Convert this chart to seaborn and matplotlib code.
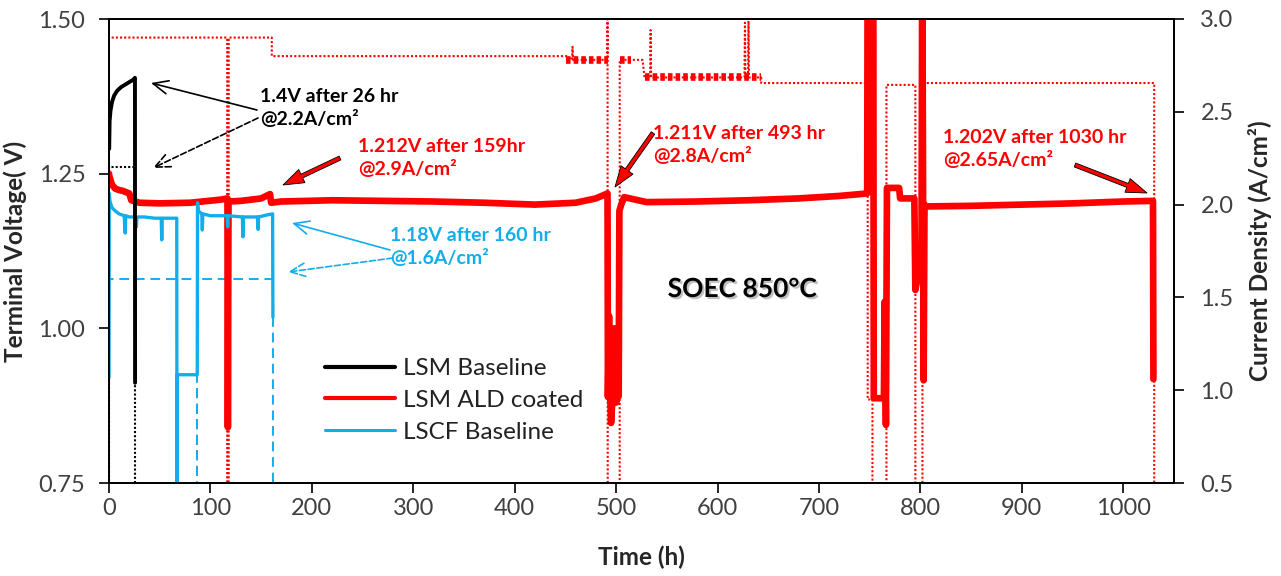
import matplotlib
matplotlib.use("Agg")
import matplotlib.pyplot as plt
import matplotlib.patheffects as pe
import seaborn as sns

# ---------------- data ----------------
# LSM baseline: terminal voltage (V) and current density (A/cm2) vs time (h)
t_lsm = [0.2, 0.6, 1.5, 3, 5, 8, 12, 16, 20, 24, 25.6, 25.7]
v_lsm = [1.29, 1.335, 1.352, 1.366, 1.376, 1.384, 1.390, 1.394, 1.398, 1.402, 1.405, 0.912]
t_lsm_j = [0, 0, 25.7, 25.7]
j_lsm = [0.4, 2.2, 2.2, 0.4]

# LSM ALD coated
t_ald = [0, 0.5, 3, 6, 9, 14, 20, 22, 30, 50, 80, 110, 116.8, 117.2, 117.8, 130, 150,
         158.8, 159.8, 170, 220, 270, 320, 370, 420, 460, 480, 491.5, 491.9, 493, 494,
         495, 496.5, 498, 500, 501.5, 502.5, 503.2, 505, 508, 530, 580, 630, 680, 720,
         747.5, 748, 753.5, 754, 764, 764.7, 766, 767, 779, 780, 794, 795, 797, 801,
         801.8, 803.2, 804, 805, 850, 900, 950, 1000, 1029.3, 1029.7]
v_ald = [1.25, 1.245, 1.232, 1.226, 1.224, 1.222, 1.218, 1.207, 1.203, 1.202, 1.203,
         1.208, 1.21, 0.84, 1.205, 1.206, 1.21, 1.217, 1.203, 1.205, 1.207, 1.206,
         1.205, 1.203, 1.200, 1.203, 1.21, 1.218, 0.889, 1.02, 0.90, 0.847, 0.89, 1.0,
         0.88, 0.95, 0.89, 1.19, 1.2, 1.212, 1.204, 1.205, 1.207, 1.21, 1.214, 1.218,
         1.62, 1.62, 0.887, 0.887, 1.043, 0.844, 1.227, 1.227, 1.21, 1.21, 1.062, 1.08,
         1.08, 1.62, 0.916, 1.2, 1.197, 1.198, 1.2, 1.202, 1.205, 1.206, 0.918]
t_ald_j = [0, 0, 116.5, 116.5, 118, 118, 160.5, 160.5, 451, 456.5, 457, 457.5, 491.5,
           491.5, 491.7, 503.5, 503.5, 526, 528, 533.5, 534, 534.5, 626.5, 627, 627.5,
           630, 630.5, 631, 643, 643, 748, 748, 752.7, 752.7, 766.5, 766.5, 795, 795,
           802, 802, 1030.5, 1030.5]
j_ald = [0.4, 2.9, 2.9, 0.4, 0.4, 2.9, 2.9, 2.8, 2.8, 2.78, 2.85, 2.78, 2.78, 3.1,
         0.4, 0.4, 2.78, 2.78, 2.685, 2.685, 2.94, 2.685, 2.685, 2.98, 2.685, 2.685,
         2.99, 2.685, 2.685, 2.655, 2.655, 0.95, 0.95, 0.4, 0.4, 2.645, 2.645, 0.4,
         0.4, 2.655, 2.655, 0.4]
# spans where the current-density record is noisy
band_start = [451, 503.5, 528]
band_end = [491.5, 515, 643]
band_level = [2.78, 2.78, 2.685]

# LSCF baseline
t_lscf = [0, 0.2, 1, 3, 6, 10, 15, 16, 16.5, 20, 26.5, 27, 27.5, 35, 45, 51.5, 52,
          52.5, 60, 66.8, 67, 67.2, 87, 87.3, 88, 91.5, 92, 92.5, 100, 116.5, 117,
          117.5, 131.5, 132, 132.5, 146.5, 147, 147.5, 155, 161.3, 161.6]
v_lscf = [0.92, 1.218, 1.205, 1.195, 1.19, 1.185, 1.182, 1.154, 1.182, 1.18, 1.18,
          1.164, 1.18, 1.18, 1.178, 1.178, 1.143, 1.178, 1.178, 1.178, 0.74, 0.925,
          0.925, 1.203, 1.19, 1.185, 1.159, 1.185, 1.182, 1.182, 1.164, 1.182, 1.18,
          1.148, 1.18, 1.18, 1.16, 1.18, 1.183, 1.185, 1.018]
t_lscf_j = [0, 0, 87, 87, 87, 161.6, 161.6]
j_lscf = [0.4, 1.6, 1.6, 0.4, 1.6, 1.6, 0.4]

series_names = ["LSM Baseline", "LSM ALD coated", "LSCF Baseline"]
x_ticks = [0, 100, 200, 300, 400, 500, 600, 700, 800, 900, 1000]
v_ticks = [0.75, 1.00, 1.25, 1.50]
j_ticks = [0.5, 1.0, 1.5, 2.0, 2.5, 3.0]

# ---------------- style ----------------
sns.set_theme(style="ticks")
plt.rcParams['font.family'] = ['Lato', 'DejaVu Sans']
RED = "#FF0000"
BLUE = "#12AEEC"
BLACK = "#000000"
TICK_C = "#404040"

W, H = 1281, 576
fig = plt.figure(figsize=(W / 100, H / 100), dpi=100)
L, R, T, B = 109, 1174, 19, 483
ax = fig.add_axes([L / W, 1 - B / H, (R - L) / W, (B - T) / H])
ax2 = ax.twinx()
ax.set_zorder(ax2.get_zorder() + 1)
ax.patch.set_visible(False)

dot = (0, (1, 1))
# current density (right axis)
sns.lineplot(x=t_ald_j, y=j_ald, ax=ax2, sort=False, estimator=None, color=RED,
             lw=1.5, linestyle=dot, legend=False)
for s, e, lv in zip(band_start, band_end, band_level):
    sns.lineplot(x=[s, e], y=[lv, lv], ax=ax2, sort=False, estimator=None,
                 color=RED, lw=5.5, linestyle=(0, (0.6, 0.4)), legend=False)
sns.lineplot(x=t_lsm_j, y=j_lsm, ax=ax2, sort=False, estimator=None, color=BLACK,
             lw=1.5, linestyle=dot, legend=False)
sns.lineplot(x=t_lscf_j, y=j_lscf, ax=ax2, sort=False, estimator=None, color=BLUE,
             lw=1.4, linestyle=(0, (5, 3)), legend=False)

# terminal voltage (left axis)
sns.lineplot(x=t_ald, y=v_ald, ax=ax, sort=False, estimator=None, color=RED,
             lw=4.8, legend=False)
sns.lineplot(x=t_lscf, y=v_lscf, ax=ax, sort=False, estimator=None, color=BLUE,
             lw=2.4, legend=False)
sns.lineplot(x=t_lsm, y=v_lsm, ax=ax, sort=False, estimator=None, color=BLACK,
             lw=2.8, legend=False)

ax.set_xlim(0, 1050)
ax.set_ylim(0.75, 1.5)
ax2.set_ylim(0.5, 3.0)
ax.set_xticks(x_ticks)
ax.set_yticks(v_ticks)
ax.set_yticklabels([f"{v:.2f}" for v in v_ticks])
ax2.set_yticks(j_ticks)
ax2.set_yticklabels([f"{v:.1f}" for v in j_ticks])

for a in (ax, ax2):
    for sp in a.spines.values():
        sp.set_color("black")
        sp.set_linewidth(1.3)
        sp.set_visible(True)
ax.tick_params(axis="both", direction="out", length=7, width=1.2, color="black",
               labelsize=17, labelcolor=TICK_C)
ax.tick_params(axis="y", pad=10)
ax.tick_params(axis="x", pad=4)
ax2.tick_params(axis="y", direction="out", length=7, width=1.2, color="black",
                labelsize=17, labelcolor=TICK_C, pad=12)

ax.set_xlabel("Time (h)", fontsize=17.5, fontweight="bold", labelpad=19)
ax.set_ylabel("Terminal Voltage( V)", fontsize=17.5, fontweight="bold", labelpad=8)
ax2.set_ylabel("Current Density (A/cm²)", fontsize=17.5, fontweight="bold", labelpad=10)

# legend
handles = [
    plt.Line2D([], [], color=BLACK, lw=3.0),
    plt.Line2D([], [], color=RED, lw=3.0),
    plt.Line2D([], [], color=BLUE, lw=2.2),
]
leg = ax.legend(handles, series_names, loc="upper left",
                bbox_to_anchor=(325 / W, 1 - 358 / H), bbox_transform=fig.transFigure,
                frameon=False, fontsize=17.5, handlelength=2.9, handletextpad=0.3,
                labelspacing=0.45, borderpad=0, borderaxespad=0)
for txt in leg.get_texts():
    txt.set_color("#222222")


def px(x, y):
    """pixel position -> (time, voltage) data coordinates"""
    return ((x - L) / (R - L) * 1050.0, 1.5 - (y - T) / (B - T) * 0.75)


fs_ann = 14
# LSM baseline note
ax.text(*px(260, 108), "1.4V after 26 hr\n@2.2A/cm²", color=BLACK, fontsize=fs_ann,
        fontweight="bold", ha="left", va="center", linespacing=1.3)
ax.annotate("", xy=px(151, 83), xytext=px(257, 110),
            arrowprops=dict(arrowstyle="->,head_length=0.9,head_width=0.4",
                            color=BLACK, lw=1.2, shrinkA=0, shrinkB=0))
ax.annotate("", xy=px(153, 168), xytext=px(258, 118),
            arrowprops=dict(arrowstyle="->,head_length=0.9,head_width=0.4",
                            color=BLACK, lw=1.2, ls="--", shrinkA=0, shrinkB=0))

red_arrow = dict(arrowstyle="simple,head_length=1.0,head_width=0.7,tail_width=0.2",
                 fc=RED, ec=BLACK, lw=0.6, shrinkA=0, shrinkB=0, mutation_scale=15)
# LSM ALD notes
ax.text(*px(358, 158), "1.212V after 159hr\n@2.9A/cm²", color=RED, fontsize=fs_ann,
        fontweight="bold", ha="left", va="center", linespacing=1.3)
ax.annotate("", xy=px(283, 185), xytext=px(340, 158), arrowprops=red_arrow)
ax.text(*px(653, 145), "1.211V after 493 hr\n@2.8A/cm²", color=RED, fontsize=fs_ann,
        fontweight="bold", ha="left", va="center", linespacing=1.3)
ax.annotate("", xy=px(615, 187), xytext=px(653, 133), arrowprops=red_arrow)
ax.text(*px(943, 149), "1.202V after 1030 hr\n@2.65A/cm²", color=RED, fontsize=fs_ann,
        fontweight="bold", ha="left", va="center", linespacing=1.3)
ax.annotate("", xy=px(1147, 193), xytext=px(1075, 165), arrowprops=red_arrow)

# LSCF note
ax.text(*px(390, 247), "1.18V after 160 hr\n@1.6A/cm²", color=BLUE, fontsize=fs_ann,
        fontweight="bold", ha="left", va="center", linespacing=1.3)
ax.annotate("", xy=px(292, 223), xytext=px(390, 250),
            arrowprops=dict(arrowstyle="->,head_length=0.9,head_width=0.4",
                            color=BLUE, lw=1.2, shrinkA=0, shrinkB=0))
ax.annotate("", xy=px(288, 272), xytext=px(393, 258),
            arrowprops=dict(arrowstyle="->,head_length=0.9,head_width=0.4",
                            color=BLUE, lw=1.2, ls="--", shrinkA=0, shrinkB=0))

ax.text(*px(742, 289), "SOEC 850°C", color=BLACK, fontsize=19, fontweight="bold",
        ha="center", va="center",
        path_effects=[pe.withSimplePatchShadow(offset=(1.5, -1.5), shadow_rgbFace="gray",
                                               alpha=0.5)])

fig.savefig("out.png", dpi=100)
